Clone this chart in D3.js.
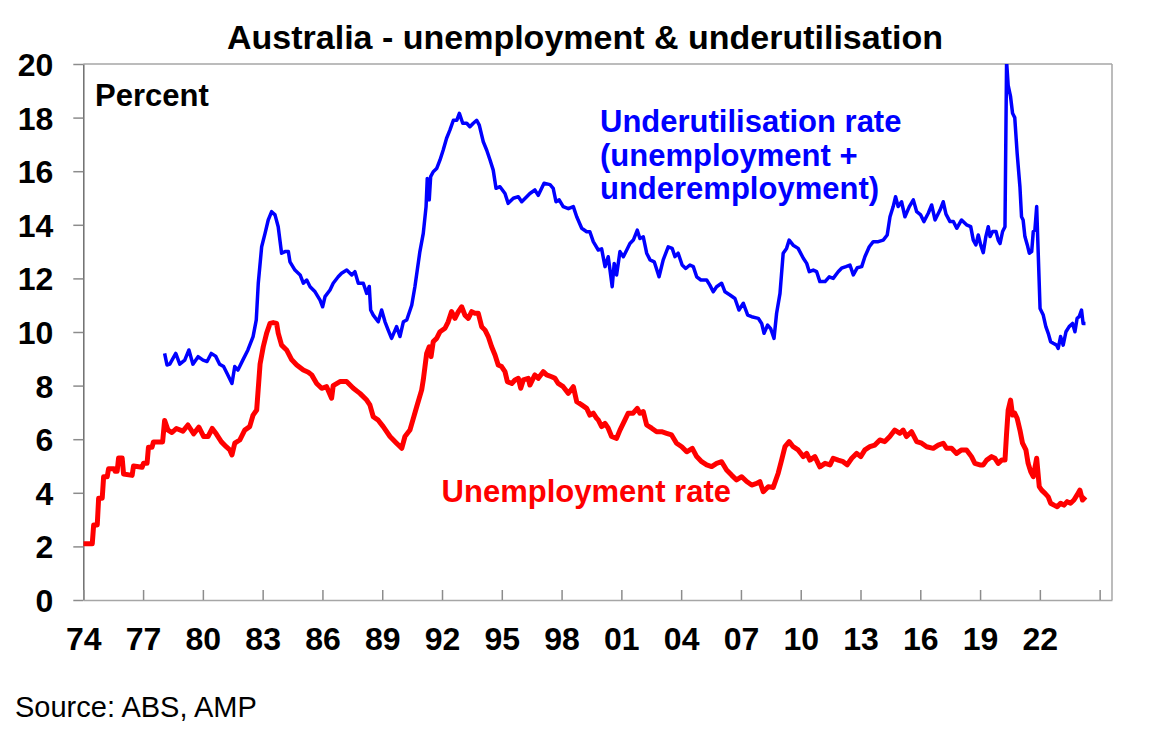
<!DOCTYPE html>
<html><head><meta charset="utf-8">
<script src="https://cdn.jsdelivr.net/npm/d3@7"></script>
<style>
body{margin:0;background:#fff}
svg{display:block}
text{font-family:"Liberation Sans",Arial,Helvetica,sans-serif}
</style>
</head><body>
<svg id="chart" width="1155" height="742"></svg>
<script>
// ---- data (decimal year, percent) ----
const unemploymentRate = [
[1974.00,2.1],[1974.45,2.1],[1974.52,2.8],[1974.70,2.8],[1974.77,3.8],[1974.95,3.8],[1975.02,4.6],[1975.20,4.6],
[1975.27,4.9],[1975.55,4.9],[1975.60,4.8],[1975.70,4.8],[1975.77,5.3],[1975.95,5.3],[1976.02,4.7],[1976.45,4.65],
[1976.52,5.0],[1976.95,4.95],[1977.02,5.1],[1977.20,5.1],[1977.27,5.7],[1977.45,5.7],[1977.52,5.9],[1977.98,5.9],
[1978.08,6.7],[1978.25,6.34],[1978.45,6.25],[1978.67,6.4],[1979.00,6.3],[1979.25,6.53],[1979.54,6.2],[1979.80,6.45],
[1980.04,6.1],[1980.26,6.1],[1980.47,6.4],[1980.67,6.2],[1980.93,5.9],[1981.17,5.72],[1981.35,5.6],[1981.46,5.41],
[1981.60,5.85],[1981.85,5.97],[1982.10,6.34],[1982.35,6.47],[1982.52,6.9],[1982.70,7.09],[1982.87,8.8],[1983.03,9.45],
[1983.20,9.96],[1983.37,10.32],[1983.53,10.35],[1983.70,10.32],[1983.78,9.96],[1983.95,9.51],[1984.20,9.33],[1984.46,8.96],
[1984.71,8.77],[1985.04,8.58],[1985.29,8.5],[1985.46,8.4],[1985.71,8.08],[1985.96,7.9],[1986.21,7.96],[1986.46,7.53],
[1986.54,8.0],[1986.88,8.15],[1987.21,8.15],[1987.55,7.9],[1987.88,7.71],[1988.22,7.46],[1988.38,7.28],[1988.55,6.84],
[1988.80,6.71],[1989.05,6.47],[1989.39,6.1],[1989.72,5.85],[1989.98,5.66],[1990.14,6.1],[1990.39,6.34],[1990.73,7.21],
[1990.98,7.84],[1991.06,8.21],[1991.23,9.2],[1991.36,9.45],[1991.45,9.08],[1991.56,9.64],[1991.73,9.76],[1991.90,10.01],
[1992.15,10.14],[1992.31,10.38],[1992.48,10.76],[1992.65,10.51],[1992.82,10.76],[1992.99,10.94],[1993.15,10.63],[1993.32,10.51],
[1993.49,10.76],[1993.65,10.7],[1993.82,10.7],[1993.99,10.2],[1994.16,10.07],[1994.32,9.83],[1994.49,9.45],[1994.66,9.14],
[1994.82,8.77],[1994.99,8.71],[1995.16,8.52],[1995.28,8.15],[1995.50,8.08],[1995.66,8.21],[1995.83,8.27],[1995.95,7.9],
[1996.08,8.21],[1996.33,8.27],[1996.41,8.02],[1996.66,8.4],[1996.83,8.27],[1997.08,8.52],[1997.25,8.4],[1997.50,8.33],
[1997.67,8.27],[1997.83,8.08],[1998.08,7.96],[1998.34,7.71],[1998.59,7.96],[1998.76,7.4],[1999.01,7.28],[1999.26,7.15],
[1999.42,6.9],[1999.59,6.97],[1999.76,6.78],[1999.84,6.72],[2000.01,6.47],[2000.18,6.59],[2000.34,6.41],[2000.51,6.1],
[2000.76,6.03],[2000.93,6.34],[2001.18,6.72],[2001.34,6.97],[2001.59,6.97],[2001.80,7.15],[2001.93,6.97],[2002.10,7.03],
[2002.27,6.53],[2002.52,6.41],[2002.77,6.28],[2003.02,6.28],[2003.27,6.22],[2003.52,6.16],[2003.77,5.85],[2004.03,5.72],
[2004.28,5.53],[2004.56,5.66],[2004.78,5.35],[2005.03,5.16],[2005.28,5.04],[2005.53,4.98],[2005.78,5.1],[2006.03,5.16],
[2006.28,4.85],[2006.53,4.66],[2006.78,4.48],[2007.04,4.6],[2007.29,4.42],[2007.54,4.29],[2007.79,4.35],[2007.95,4.42],
[2008.12,4.04],[2008.37,4.23],[2008.62,4.2],[2008.87,4.73],[2009.04,5.22],[2009.21,5.72],[2009.42,5.91],[2009.62,5.72],
[2009.87,5.6],[2010.13,5.35],[2010.30,5.47],[2010.46,5.22],[2010.71,5.35],[2010.96,4.97],[2011.22,5.1],[2011.47,5.04],
[2011.63,5.29],[2011.88,5.22],[2012.13,5.16],[2012.33,5.04],[2012.56,5.29],[2012.81,5.47],[2013.01,5.35],[2013.22,5.6],
[2013.47,5.72],[2013.72,5.78],[2013.97,5.97],[2014.22,5.91],[2014.47,6.1],[2014.72,6.34],[2014.98,6.22],[2015.14,6.34],
[2015.31,6.1],[2015.56,6.28],[2015.82,5.91],[2016.07,5.85],[2016.32,5.72],[2016.65,5.66],[2016.90,5.78],[2017.15,5.85],
[2017.32,5.66],[2017.57,5.66],[2017.82,5.47],[2018.07,5.6],[2018.32,5.6],[2018.57,5.35],[2018.74,5.1],[2018.99,5.04],
[2019.16,5.04],[2019.33,5.22],[2019.58,5.35],[2019.74,5.29],[2019.91,5.1],[2020.08,5.22],[2020.25,5.22],[2020.33,6.22],
[2020.41,7.09],[2020.53,7.46],[2020.63,6.9],[2020.74,6.97],[2020.86,6.78],[2021.00,6.34],[2021.13,5.85],[2021.30,5.6],
[2021.41,5.1],[2021.54,4.79],[2021.67,4.6],[2021.84,5.29],[2021.97,4.23],[2022.09,4.1],[2022.26,3.98],[2022.42,3.85],
[2022.54,3.61],[2022.71,3.54],[2022.87,3.48],[2023.04,3.61],[2023.21,3.54],[2023.37,3.67],[2023.54,3.61],[2023.71,3.73],
[2023.87,3.92],[2024.01,4.1],[2024.14,3.73],[2024.29,3.85]
];

const underutilisationRate = [
[1978.08,9.2],[1978.20,8.77],[1978.34,8.8],[1978.64,9.2],[1978.84,8.8],[1979.09,8.95],[1979.30,9.33],[1979.50,8.8],
[1979.76,9.08],[1980.01,8.95],[1980.21,8.9],[1980.42,9.2],[1980.64,9.1],[1980.84,8.8],[1981.04,8.71],[1981.21,8.46],
[1981.46,8.08],[1981.60,8.71],[1981.76,8.58],[1982.01,8.96],[1982.26,9.33],[1982.52,9.83],[1982.68,10.45],[1982.78,11.82],
[1982.95,13.18],[1983.12,13.68],[1983.28,14.18],[1983.45,14.49],[1983.62,14.37],[1983.78,13.93],[1983.95,12.94],[1984.12,13.0],
[1984.29,13.0],[1984.37,12.62],[1984.62,12.31],[1984.88,12.13],[1985.04,11.82],[1985.21,11.94],[1985.38,11.69],[1985.63,11.5],
[1985.88,11.19],[1986.01,10.94],[1986.13,11.32],[1986.38,11.57],[1986.54,11.82],[1986.79,12.06],[1986.96,12.19],[1987.22,12.31],
[1987.47,12.13],[1987.63,12.25],[1987.80,11.82],[1988.05,11.82],[1988.22,11.44],[1988.35,11.7],[1988.42,10.82],[1988.55,10.63],
[1988.80,10.38],[1988.97,10.82],[1989.14,10.38],[1989.30,10.07],[1989.47,9.76],[1989.72,10.2],[1989.89,9.83],[1990.06,10.38],
[1990.23,10.45],[1990.48,11.0],[1990.64,11.69],[1990.89,13.0],[1991.06,13.68],[1991.20,14.68],[1991.26,15.73],[1991.36,14.93],
[1991.43,15.8],[1991.56,15.98],[1991.73,16.1],[1991.90,16.42],[1992.06,16.79],[1992.23,17.23],[1992.40,17.54],[1992.57,17.9],
[1992.74,17.9],[1992.87,18.16],[1993.04,17.79],[1993.24,17.79],[1993.40,17.66],[1993.57,17.79],[1993.74,17.9],[1993.87,17.72],
[1994.07,17.1],[1994.24,16.79],[1994.41,16.42],[1994.57,16.04],[1994.71,15.36],[1994.91,15.42],[1995.16,15.17],[1995.32,14.8],
[1995.58,14.99],[1995.83,15.05],[1996.00,14.86],[1996.25,15.05],[1996.41,15.17],[1996.66,15.3],[1996.83,15.1],[1997.12,15.55],
[1997.42,15.5],[1997.58,15.36],[1997.72,14.86],[1997.88,14.93],[1998.08,14.68],[1998.34,14.6],[1998.59,14.68],[1998.76,14.3],
[1999.01,13.87],[1999.26,13.74],[1999.42,13.74],[1999.59,13.37],[1999.84,13.06],[2000.01,13.1],[2000.18,12.44],[2000.34,12.81],
[2000.43,12.31],[2000.54,11.69],[2000.64,12.56],[2000.76,12.13],[2000.93,13.0],[2001.10,12.81],[2001.27,13.06],[2001.43,13.3],
[2001.60,13.43],[2001.80,13.8],[2001.93,13.49],[2002.10,13.55],[2002.27,12.94],[2002.44,12.69],[2002.65,12.62],[2002.89,12.06],
[2003.10,12.69],[2003.35,13.18],[2003.55,13.12],[2003.69,12.81],[2003.85,12.94],[2004.05,12.5],[2004.23,12.37],[2004.44,12.5],
[2004.61,12.44],[2004.78,12.06],[2004.99,11.94],[2005.28,11.94],[2005.44,11.75],[2005.61,11.5],[2005.78,11.69],[2006.03,11.82],
[2006.20,11.5],[2006.45,11.38],[2006.70,11.25],[2006.90,10.82],[2007.12,11.07],[2007.34,10.63],[2007.54,10.57],[2007.87,10.51],
[2008.04,10.32],[2008.16,9.95],[2008.34,10.26],[2008.49,10.13],[2008.66,9.76],[2008.79,10.7],[2008.96,11.44],[2009.12,12.94],
[2009.29,13.12],[2009.42,13.43],[2009.62,13.24],[2009.87,13.12],[2010.13,12.75],[2010.30,12.56],[2010.43,12.25],[2010.63,12.31],
[2010.80,12.25],[2010.96,11.88],[2011.22,11.88],[2011.43,12.06],[2011.63,12.0],[2011.88,12.25],[2012.05,12.38],[2012.27,12.44],
[2012.47,12.5],[2012.64,12.13],[2012.84,12.4],[2013.06,12.44],[2013.22,12.81],[2013.44,13.18],[2013.64,13.37],[2013.89,13.37],
[2014.14,13.43],[2014.34,13.62],[2014.48,14.3],[2014.64,14.68],[2014.76,15.05],[2014.89,14.68],[2015.06,14.86],[2015.23,14.3],
[2015.45,14.68],[2015.65,14.93],[2015.82,14.49],[2016.02,14.37],[2016.18,14.12],[2016.40,14.43],[2016.57,14.74],[2016.74,14.18],
[2016.99,14.55],[2017.15,14.86],[2017.29,14.4],[2017.49,14.12],[2017.66,14.12],[2017.83,13.87],[2018.07,14.18],[2018.32,14.0],
[2018.53,13.93],[2018.66,13.43],[2018.79,13.25],[2018.91,13.62],[2019.03,13.25],[2019.16,12.96],[2019.29,13.56],[2019.41,13.93],
[2019.50,13.56],[2019.63,13.75],[2019.80,13.75],[2019.91,13.43],[2020.00,13.3],[2020.13,13.75],[2020.25,13.93],[2020.33,20.1],
[2020.41,19.2],[2020.53,18.78],[2020.63,18.16],[2020.74,18.0],[2020.86,16.67],[2021.00,15.42],[2021.08,14.3],[2021.16,14.18],
[2021.25,13.56],[2021.37,13.25],[2021.47,12.94],[2021.59,13.0],[2021.67,13.75],[2021.75,13.8],[2021.84,14.68],[2022.01,10.88],
[2022.17,10.63],[2022.30,10.2],[2022.42,9.95],[2022.54,9.64],[2022.67,9.58],[2022.84,9.51],[2022.92,9.39],[2023.04,9.83],
[2023.17,9.51],[2023.31,10.01],[2023.47,10.2],[2023.64,10.32],[2023.76,10.01],[2023.87,10.51],[2023.97,10.57],[2024.09,10.82],
[2024.17,10.32],[2024.29,10.32]
];

const yTickValues = [0,2,4,6,8,10,12,14,16,18,20];
const xTickYears = [1974,1977,1980,1983,1986,1989,1992,1995,1998,2001,2004,2007,2010,2013,2016,2019,2022,2025];
const xTickLabels = ["74","77","80","83","86","89","92","95","98","01","04","07","10","13","16","19","22",""];

const titleText = "Australia - unemployment & underutilisation";
const blueLabelLines = ["Underutilisation rate","(unemployment +","underemployment)"];
const redLabelText = "Unemployment rate";
const unitText = "Percent";
const sourceText = "Source: ABS, AMP";

// ---- layout ----
const svg = d3.select("#chart");
const plotLeft = 83.3, plotRight = 1112, plotTop = 64, plotBottom = 600;
const x = d3.scaleLinear().domain([1974, 2025.62]).range([plotLeft, plotRight]);
const y = d3.scaleLinear().domain([0, 20]).range([plotBottom, plotTop]);

svg.append("rect").attr("width",1155).attr("height",742).attr("fill","#fff");

// frame (top and right)
svg.append("line").attr("x1",plotLeft).attr("x2",plotRight).attr("y1",plotTop).attr("y2",plotTop)
  .attr("stroke","#a6a6a6").attr("stroke-width",1.5);
svg.append("line").attr("x1",plotRight).attr("x2",plotRight).attr("y1",plotTop).attr("y2",plotBottom)
  .attr("stroke","#a6a6a6").attr("stroke-width",1.5);

// y axis
const yAxis = svg.append("g").attr("transform",`translate(${plotLeft},0)`)
  .call(d3.axisLeft(y).tickValues(yTickValues).tickSize(10).tickSizeOuter(0).tickPadding(20).tickFormat(d3.format("d")));
yAxis.select(".domain").attr("stroke","#6e6e6e").attr("stroke-width",1.5);
yAxis.selectAll(".tick line").attr("stroke","#8c8c8c").attr("stroke-width",1.5);
yAxis.selectAll(".tick text").attr("font-size",32).attr("font-weight","bold").attr("fill","#000")
  .attr("font-family",'"Liberation Sans",Arial,sans-serif').attr("dy","0.36em");

// x axis
const xAxis = svg.append("g").attr("transform",`translate(0,${plotBottom})`)
  .call(d3.axisBottom(x).tickValues(xTickYears).tickSizeInner(-10).tickSizeOuter(0).tickPadding(27)
    .tickFormat((d,i)=>xTickLabels[i]));
xAxis.select(".domain").attr("stroke","#a6a6a6").attr("stroke-width",1.5);
xAxis.selectAll(".tick line").attr("stroke","#8c8c8c").attr("stroke-width",1.5);
xAxis.selectAll(".tick text").attr("font-size",32).attr("font-weight","bold").attr("fill","#000")
  .attr("font-family",'"Liberation Sans",Arial,sans-serif');

// clip
svg.append("clipPath").attr("id","plotclip").append("rect")
  .attr("x",plotLeft).attr("y",plotTop).attr("width",plotRight-plotLeft).attr("height",plotBottom-plotTop);

const line = d3.line().x(d=>x(d[0])).y(d=>y(d[1]));
const plot = svg.append("g").attr("clip-path","url(#plotclip)");
plot.append("path").datum(unemploymentRate).attr("d",line)
  .attr("fill","none").attr("stroke","#ff0000").attr("stroke-width",5).attr("stroke-linejoin","round");
plot.append("path").datum(underutilisationRate).attr("d",line)
  .attr("fill","none").attr("stroke","#0000ff").attr("stroke-width",3.5).attr("stroke-linejoin","round");

// texts
svg.append("text").attr("x",585).attr("y",49).attr("text-anchor","middle")
  .attr("font-size",34).attr("font-weight","bold").attr("fill","#000").text(titleText);
svg.append("text").attr("x",95).attr("y",106).attr("font-size",31).attr("font-weight","bold")
  .attr("fill","#000").text(unitText);
const bl = svg.append("text").attr("font-size",31).attr("font-weight","bold").attr("fill","#0000ff");
blueLabelLines.forEach((t,i)=>bl.append("tspan").attr("x",600).attr("y",132+i*33.5).text(t));
svg.append("text").attr("x",731).attr("y",502).attr("text-anchor","end")
  .attr("font-size",31).attr("font-weight","bold").attr("fill","#ff0000").text(redLabelText);
svg.append("text").attr("x",15).attr("y",717).attr("font-size",29).attr("fill","#000").text(sourceText);
</script>
</body></html>
